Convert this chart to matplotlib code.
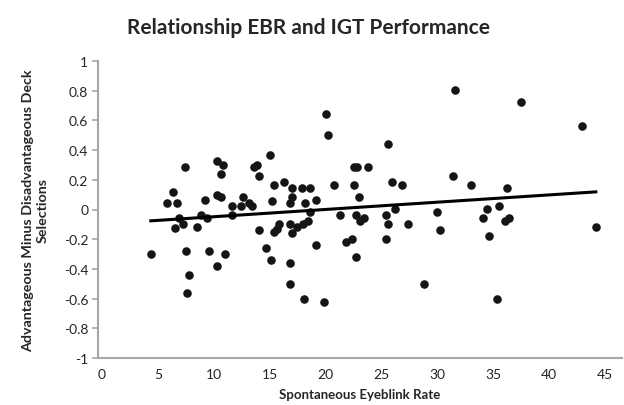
import matplotlib
matplotlib.use("Agg")
import matplotlib.pyplot as plt
import numpy as np

plt.rcParams['font.family'] = ['Lato', 'DejaVu Sans']

# Spontaneous eyeblink rate (x) and advantageous minus disadvantageous deck selections (y)
ebr = [4.36, 7.43, 6.33, 5.79, 6.69, 6.87, 6.56, 7.25, 7.52, 7.76,
       7.58, 8.50, 8.86, 9.37, 9.22, 9.58, 10.30, 11.01, 10.27, 10.86,
       10.65, 10.27, 10.63, 11.58, 11.58, 12.65, 12.44, 13.16, 13.40, 13.58,
       13.90, 14.08, 14.98, 15.34, 15.16, 14.08, 14.62, 15.09, 15.34, 15.64,
       15.87, 16.23, 16.96, 16.96, 16.77, 16.77, 16.95, 16.77, 16.77, 17.84,
       18.56, 18.19, 19.11, 18.56, 17.46, 17.97, 18.40, 19.11, 18.02, 19.81,
       20.03, 20.21, 20.72, 21.26, 21.84, 22.37, 22.74, 22.56, 22.80, 23.79,
       22.56, 23.01, 22.72, 23.09, 23.45, 25.60, 25.96, 26.86, 26.16, 25.43,
       25.59, 25.43, 27.35, 28.83, 29.93, 30.26, 31.54, 31.35, 32.96, 37.48,
       42.88, 36.23, 35.51, 34.45, 34.06, 36.08, 36.41, 34.60, 35.34, 44.16]
igt = [-0.300, 0.284, 0.120, 0.042, 0.042, -0.057, -0.123, -0.100, -0.279, -0.443,
       -0.564, -0.120, -0.035, -0.059, 0.062, -0.279, -0.382, -0.300, 0.325, 0.302,
       0.241, 0.100, 0.086, 0.022, -0.039, 0.086, 0.022, 0.044, 0.022, 0.284,
       0.302, 0.224, 0.365, 0.163, 0.059, -0.140, -0.261, -0.342, -0.154, -0.131,
       -0.098, 0.183, 0.143, 0.082, 0.042, -0.100, -0.160, -0.360, -0.502, 0.143,
       0.143, 0.042, 0.062, -0.019, -0.120, -0.100, -0.079, -0.239, -0.603, -0.623,
       0.645, 0.504, 0.164, -0.040, -0.221, -0.200, -0.322, 0.284, 0.284, 0.284,
       0.164, 0.082, -0.037, -0.079, -0.059, 0.443, 0.183, 0.164, 0.002, -0.037,
       -0.100, -0.200, -0.100, -0.502, -0.019, -0.139, 0.807, 0.224, 0.164, 0.726,
       0.564, 0.143, 0.022, 0.001, -0.059, -0.079, -0.059, -0.180, -0.603, -0.120]

x_ticks = [0, 5, 10, 15, 20, 25, 30, 35, 40, 45]
y_ticks = [-1, -0.8, -0.6, -0.4, -0.2, 0, 0.2, 0.4, 0.6, 0.8, 1]
y_labels = ['-1', '-0.8', '-0.6', '-0.4', '-0.2', '0', '0.2', '0.4', '0.6', '0.8', '1']

fig = plt.figure(figsize=(6.24, 4.06), dpi=100)
ax = fig.add_axes([98/624, 47/406, 524/624, 297/406])

x = np.array(ebr)
y = np.array(igt)
ax.scatter(x, y, s=38, color='#151515', zorder=3, linewidths=0)

slope, intercept = np.polyfit(x, y, 1)
xl = np.array([x.min(), x.max()])
ax.plot(xl, slope * xl + intercept, color='black', lw=2.2, zorder=4)

ax.set_xlim(-0.36, 46.5)
ax.set_ylim(-1, 1)
ax.set_xticks(x_ticks)
ax.set_xticklabels([str(t) for t in x_ticks])
ax.set_yticks(y_ticks)
ax.set_yticklabels(y_labels)

for s in ['top', 'right']:
    ax.spines[s].set_visible(False)
for s in ['left', 'bottom']:
    ax.spines[s].set_color('#a6a6a6')
    ax.spines[s].set_linewidth(1.5)

ax.tick_params(axis='x', length=0, pad=7, labelsize=10, labelcolor='#262626')
ax.tick_params(axis='y', length=4, width=1.2, color='#a6a6a6', direction='out',
               pad=3, labelsize=10, labelcolor='#262626')

ax.set_xlabel('Spontaneous Eyeblink Rate', fontsize=9.5, fontweight='bold',
              color='#262626', labelpad=6)
ax.set_ylabel('Advantageous Minus Disadvantageous Deck\nSelections', fontsize=10.3,
              fontweight='bold', color='#262626', labelpad=11, linespacing=1.25)

fig.text(0.495, 0.932, 'Relationship EBR and IGT Performance', ha='center', va='center',
         fontsize=15, fontweight='bold', color='#262626')

fig.savefig('out.png', dpi=100)
